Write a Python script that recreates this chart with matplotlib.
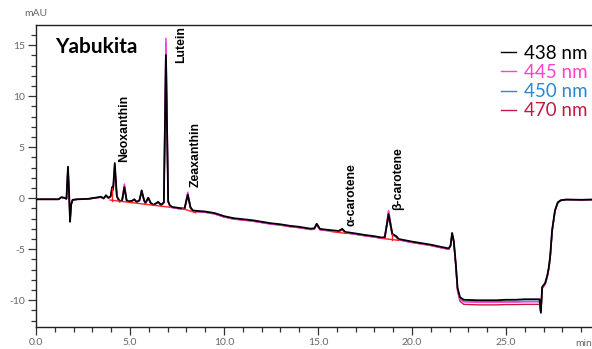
import matplotlib
matplotlib.use("Agg")
import matplotlib.pyplot as plt
from matplotlib.ticker import MultipleLocator

# retention time (min), shared by all four channels
time_min = [
    0.0, 1.2, 1.35, 1.5, 1.62, 1.70, 1.76, 1.81, 1.87, 1.95,
    2.2, 2.8, 3.3, 3.45, 3.6, 3.72, 3.85, 3.97, 4.05, 4.10,
    4.19, 4.30, 4.45, 4.58, 4.70, 4.82, 4.93, 5.10, 5.23, 5.35,
    5.50, 5.62, 5.75, 5.82, 5.97, 6.10, 6.25, 6.50, 6.65, 6.80,
    6.91, 7.03, 7.12, 7.25, 7.60, 7.90, 8.07, 8.22, 8.35, 9.0,
    9.5, 10.0, 10.5, 11.0, 11.5, 12.0, 12.5, 13.0, 13.5, 14.0,
    14.6, 14.8, 14.93, 15.1, 15.3, 15.8, 16.1, 16.28, 16.45, 17.0,
    17.5, 18.0, 18.4, 18.55, 18.75, 18.95, 19.05, 19.15, 19.3, 20.0,
    20.5, 21.0, 21.5, 21.95, 22.05, 22.13, 22.22, 22.32, 22.42, 22.55,
    22.75, 23.5, 24.5, 25.0, 25.5, 26.0, 26.78, 26.85, 26.92, 27.08,
    27.2, 27.28, 27.35, 27.45, 27.6, 27.75, 27.9, 28.2, 29.0, 29.6,
]

# absorbance (mAU) per detection wavelength
mau_438 = [
    -0.1, -0.1, 0.1, 0.05, -0.05, 3.1, 0.5, -2.3, -0.6, -0.15,
    -0.1, -0.05, 0.1, 0.15, 0.0, 0.3, 0.05, 0.2, 1.1, 0.9,
    3.45, 0.2, -0.3, -0.2, 1.1, -0.2, -0.3, -0.25, -0.1, -0.35,
    -0.2, 0.75, -0.2, -0.45, 0.05, -0.45, -0.65, -0.35, -0.65, -0.4,
    14.05, -0.3, -0.7, -0.85, -0.95, -1.0, 0.35, -0.9, -1.2, -1.3,
    -1.45, -1.75, -1.95, -2.05, -2.15, -2.3, -2.45, -2.55, -2.7, -2.8,
    -2.98, -2.95, -2.5, -3.0, -3.05, -3.15, -3.2, -3.0, -3.3, -3.45,
    -3.6, -3.72, -3.85, -3.8, -1.55, -3.5, -3.6, -3.7, -4.0, -4.25,
    -4.4, -4.55, -4.75, -4.92, -4.6, -3.4, -4.2, -6.3, -8.8, -9.7,
    -9.95, -10.0, -10.0, -9.95, -9.95, -9.9, -9.9, -11.2, -8.7, -8.3,
    -7.5, -6.7, -5.6, -3.1, -1.2, -0.4, -0.2, -0.12, -0.15, -0.12,
]
mau_445 = [
    -0.1, -0.1, 0.1, 0.05, -0.05, 3.0, 0.5, -2.2, -0.6, -0.15,
    -0.1, -0.05, 0.05, 0.1, -0.05, 0.25, 0.0, 0.15, 1.0, 0.85,
    3.2, 0.15, -0.35, -0.25, 1.4, -0.25, -0.35, -0.3, -0.15, -0.4,
    -0.25, 0.8, -0.25, -0.5, 0.05, -0.5, -0.7, -0.4, -0.7, -0.45,
    15.7, -0.35, -0.75, -0.92, -1.02, -1.08, 0.6, -0.98, -1.28, -1.38,
    -1.53, -1.83, -2.03, -2.13, -2.23, -2.38, -2.53, -2.63, -2.78, -2.88,
    -3.06, -3.03, -2.5, -3.08, -3.13, -3.23, -3.28, -3.05, -3.38, -3.53,
    -3.68, -3.8, -3.93, -3.85, -1.2, -3.5, -3.65, -3.78, -4.08, -4.33,
    -4.48, -4.63, -4.83, -5.0, -4.65, -3.45, -4.3, -6.4, -9.0, -9.9,
    -10.15, -10.2, -10.2, -10.18, -10.18, -10.15, -10.15, -11.2, -8.8, -8.4,
    -7.6, -6.8, -5.7, -3.2, -1.25, -0.45, -0.22, -0.14, -0.16, -0.14,
]
mau_450 = [
    -0.1, -0.1, 0.1, 0.05, -0.05, 3.0, 0.5, -2.2, -0.6, -0.15,
    -0.1, -0.05, 0.07, 0.12, -0.03, 0.27, 0.02, 0.17, 1.0, 0.85,
    3.25, 0.17, -0.33, -0.23, 1.3, -0.23, -0.33, -0.28, -0.13, -0.38,
    -0.23, 0.78, -0.23, -0.48, 0.05, -0.48, -0.68, -0.38, -0.68, -0.43,
    15.3, -0.33, -0.73, -0.9, -1.0, -1.06, 0.5, -0.96, -1.26, -1.36,
    -1.51, -1.81, -2.01, -2.11, -2.21, -2.36, -2.51, -2.61, -2.76, -2.86,
    -3.04, -3.01, -2.52, -3.06, -3.11, -3.21, -3.26, -3.04, -3.36, -3.51,
    -3.66, -3.78, -3.91, -3.84, -1.3, -3.5, -3.64, -3.76, -4.06, -4.31,
    -4.46, -4.61, -4.81, -4.98, -4.63, -3.45, -4.28, -6.38, -8.95, -9.85,
    -10.1, -10.15, -10.15, -10.12, -10.12, -10.1, -10.1, -11.2, -8.75, -8.35,
    -7.55, -6.75, -5.65, -3.15, -1.22, -0.42, -0.21, -0.13, -0.15, -0.13,
]
mau_470 = [
    -0.1, -0.1, 0.1, 0.05, -0.05, 2.8, 0.45, -2.1, -0.6, -0.15,
    -0.1, -0.05, 0.08, 0.12, -0.02, 0.25, 0.03, 0.15, 0.9, 0.75,
    2.8, 0.15, -0.33, -0.23, 1.0, -0.23, -0.33, -0.28, -0.13, -0.38,
    -0.23, 0.6, -0.23, -0.48, 0.0, -0.48, -0.68, -0.38, -0.68, -0.43,
    13.0, -0.33, -0.74, -0.92, -1.02, -1.07, 0.25, -0.97, -1.27, -1.37,
    -1.53, -1.83, -2.03, -2.13, -2.23, -2.38, -2.53, -2.63, -2.78, -2.88,
    -3.06, -3.03, -2.6, -3.08, -3.13, -3.23, -3.28, -3.1, -3.38, -3.53,
    -3.68, -3.8, -3.93, -3.88, -1.8, -3.6, -3.68, -3.78, -4.08, -4.33,
    -4.48, -4.63, -4.83, -5.0, -4.7, -3.55, -4.35, -6.45, -9.1, -10.1,
    -10.4, -10.45, -10.45, -10.42, -10.42, -10.4, -10.4, -11.25, -8.85, -8.45,
    -7.65, -6.85, -5.75, -3.25, -1.28, -0.46, -0.22, -0.14, -0.16, -0.14,
]

wavelengths = ["438 nm", "445 nm", "450 nm", "470 nm"]
colors = ["#000000", "#ff40d0", "#2a88d4", "#c41a40"]

# integration baselines (red) and peak drop lines
baseline_x = [[3.94, 7.13], [7.80, 8.50], [15.73, 16.53], [18.47, 19.27],
              [4.05, 4.05], [18.92, 18.92]]
baseline_y = [[-0.17, -0.88], [-1.02, -1.42], [-3.27, -3.45], [-3.95, -4.12],
              [-0.22, 1.0], [-4.05, -3.55]]

# peak labels: name, x, bottom of text (data units)
peak_names = ["Neoxanthin", "Lutein", "Zeaxanthin", "α-carotene", "β-carotene"]
peak_x = [4.70, 7.71, 8.49, 16.76, 19.27]
peak_y = [3.6, 13.3, 1.15, -2.75, -1.15]

xtick_vals = [0, 5, 10, 15, 20, 25]
xtick_labels = ["0.0", "5.0", "10.0", "15.0", "20.0", "25.0"]
ytick_vals = [-10, -5, 0, 5, 10, 15]
ytick_labels = ["-10", "-5", "0", "5", "10", "15"]

plt.rcParams["font.family"] = ["Lato", "DejaVu Sans"]

fig = plt.figure(figsize=(5.92, 3.49), dpi=100)
ax = fig.add_axes([36 / 592, 1 - 327 / 349, 1 - 36 / 592, (327 - 25) / 349])

series = [mau_438, mau_445, mau_450, mau_470]
widths = [1.3, 1.1, 1.0, 1.0]
handles = []
for i in [3, 2, 1, 0]:
    ln, = ax.plot(time_min, series[i], color=colors[i], lw=widths[i], zorder=2 + (3 - i))
    handles.append((i, ln))
handles.sort()

for bx, by in zip(baseline_x, baseline_y):
    ax.plot(bx, by, color="#ff2020", lw=1.0, zorder=6)

for name, px, py in zip(peak_names, peak_x, peak_y):
    ax.text(px, py, name, rotation=90, ha="center", va="bottom", fontsize=8.8,
            fontweight="bold", family=["Liberation Sans", "DejaVu Sans"])

ax.set_xlim(0, 29.57)
ax.set_ylim(-12.62, 16.99)
ax.set_xticks(xtick_vals)
ax.set_xticklabels(xtick_labels)
ax.set_yticks(ytick_vals)
ax.set_yticklabels(ytick_labels)
ax.xaxis.set_minor_locator(MultipleLocator(1))
ax.yaxis.set_minor_locator(MultipleLocator(1))
ax.tick_params(which="major", length=6, width=0.9, color="#333333",
               labelsize=7.5, labelcolor="#666666", pad=2)
ax.tick_params(which="minor", length=3.5, width=0.9, color="#333333")
ax.spines["right"].set_visible(False)
for s in ["left", "top", "bottom"]:
    ax.spines[s].set_linewidth(1.0)
    ax.spines[s].set_color("#222222")

leg = ax.legend([h for _, h in handles], wavelengths, loc="upper right",
                bbox_to_anchor=(1.005, 0.96), frameon=False,
                prop={"size": 13.5, "weight": "normal"},
                handlelength=0.8, handletextpad=0.4, labelspacing=0.12,
                borderaxespad=0, labelcolor="linecolor")
for h in leg.get_lines():
    h.set_linewidth(1.0)

fig.text(55 / 592, 1 - 53 / 349, "Yabukita", fontsize=15, fontweight="bold",
         ha="left", va="baseline")
fig.text(36 / 592, 1 - 14 / 349, "mAU", fontsize=7.5, color="#666666",
         ha="center", va="center")
fig.text(584 / 592, 1 - 343 / 349, "min", fontsize=7.5, color="#666666",
         ha="center", va="center")

fig.savefig("out.png", dpi=100)
